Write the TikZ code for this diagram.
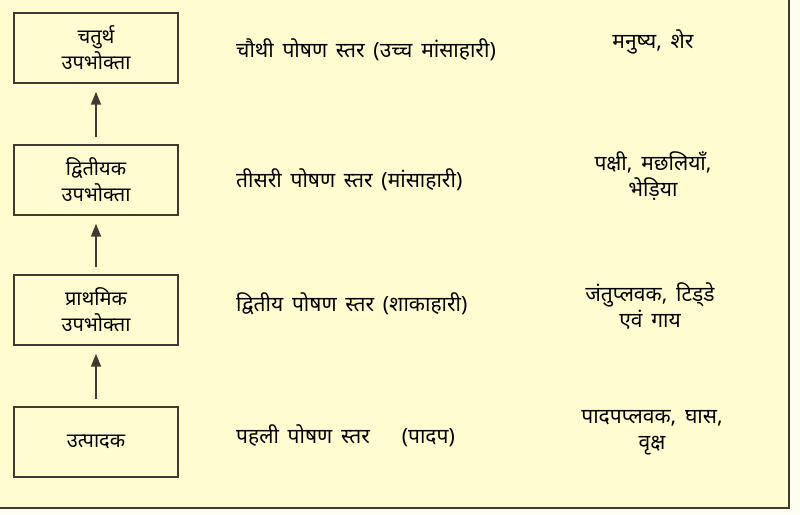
\documentclass[tikz,border=0pt]{standalone}
\usepackage{fontspec}
\setmainfont[Script=Devanagari,WordSpace=1.6]{Noto Sans}
\usetikzlibrary{arrows.meta}
\definecolor{paper}{RGB}{255,253,208}
\definecolor{ink}{RGB}{62,60,50}

\begin{document}
\begin{tikzpicture}
[
x=1pt, y=1pt,
box/.style={rectangle, draw=ink, line width=1.5pt, minimum width=164pt, minimum height=70pt, align=center, inner sep=0pt, font=\fontsize{20}{26}\selectfont},
level/.style={anchor=west, inner sep=0pt, font=\fontsize{21}{26}\selectfont},
eaters/.style={align=center, inner sep=0pt, font=\fontsize{21}{26}\selectfont},
up/.style={draw=ink, line width=1.8pt, -{Triangle[length=13pt,width=10pt]}, shorten <=7pt, shorten >=8pt}
]
%Background
\useasboundingbox (0,0) rectangle (800,514);
\fill[paper!35!white] (0,0) rectangle (800,514);
\fill[paper] (0,6) rectangle (789,514);
\draw[ink, line width=2pt] (0,6) -- (789,6) -- (789,514);

%Nodes
\node[box]    (fourth)    at (96,466)    {चतुर्थ\\उपभोक्ता};
\node[box]    (third)     at (96,334)    {द्वितीयक\\उपभोक्ता};
\node[box]    (second)    at (96,204)    {प्राथमिक\\उपभोक्ता};
\node[box]    (producer)  at (96,72)     {उत्पादक};

\node[level]  (lvlfour)   at (236,464)   {चौथी पोषण स्तर (उच्च मांसाहारी)};
\node[level]  (lvlthree)  at (236,334)   {तीसरी पोषण स्तर (मांसाहारी)};
\node[level]  (lvltwo)    at (236,210)   {द्वितीय पोषण स्तर (शाकाहारी)};
\node[level]  (lvlone)    at (236,78)    {पहली पोषण स्तर\hspace{32pt}(पादप)};

\node[eaters] (exfour)    at (653,472)   {मनुष्य, शेर};
\node[eaters] (exthree)   at (653,338)   {पक्षी, मछलियाँ,\\भेड़िया};
\node[eaters] (extwo)     at (650,208)   {जंतुप्लवक, टिड्‌डे\\एवं गाय};
\node[eaters] (exone)     at (652,81)    {पादपप्लवक, घास,\\वृक्ष};

%Lines
\path[up] (producer.north) -- (second.south);
\path[up] (second.north)   -- (third.south);
\path[up] (third.north)    -- (fourth.south);

\end{tikzpicture}
\end{document}
